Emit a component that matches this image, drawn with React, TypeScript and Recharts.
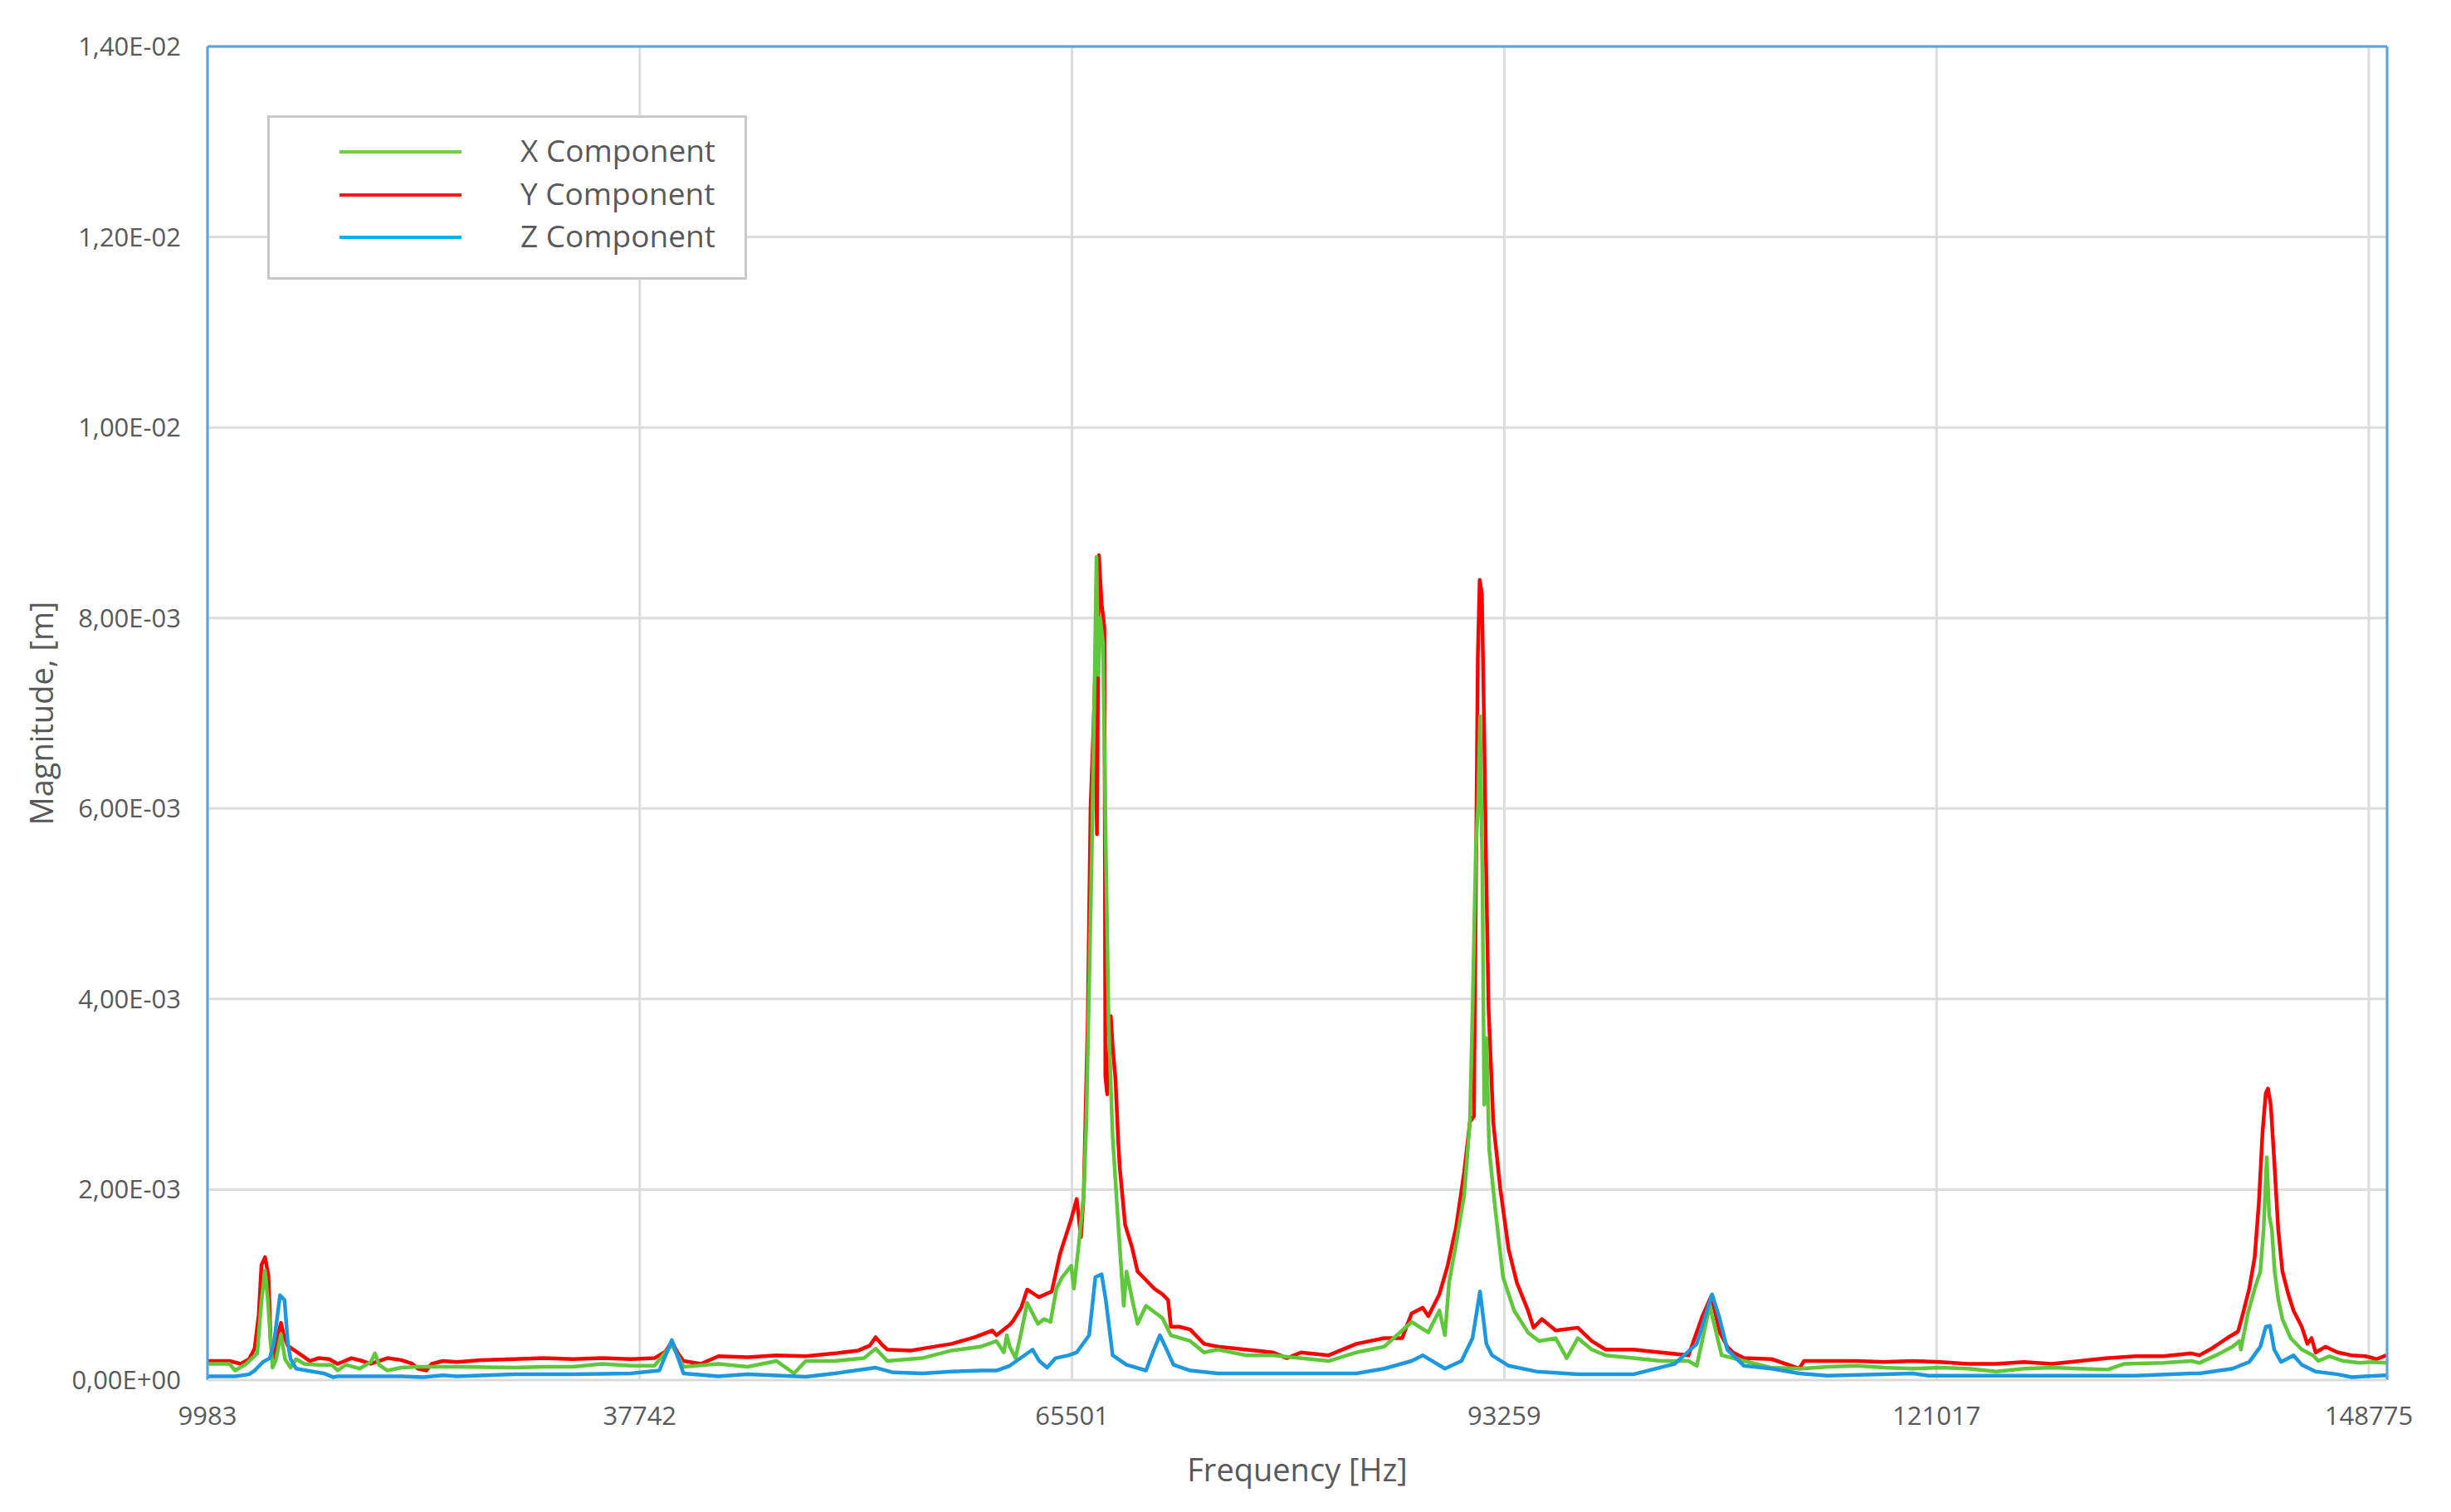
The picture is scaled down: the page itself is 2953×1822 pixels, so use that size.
import { LineChart, Line, XAxis, YAxis, CartesianGrid, ReferenceLine } from "recharts"

// frequency ticks [Hz] and magnitude ticks in mm (1 = 1E-03 m)
const xTicks = [9983, 37742, 65501, 93259, 121017, 148775]
const yTicks = [0, 2, 4, 6, 8, 10, 12, 14]

// X Component (green)
const xFreq = [
  10000, 11400, 11760, 12470, 13180, 13450, 13680, 13860, 14160, 14390, 14700, 14960, 15320, 15670, 16200,
  17100, 17980, 18340, 18870, 19760, 20470, 20740, 21000, 21540, 22430, 23500, 25100, 26000, 29700, 31570,
  33440, 35310, 37180, 38680, 39800, 40550, 42790, 44660, 46530, 47650, 48400, 50270, 52150, 52890, 53640,
  55880, 57760, 59630, 60650, 61120, 61310, 61500, 61870, 62240, 62620, 63310, 63700, 64120, 64500, 64870,
  65450, 65620, 65950, 66250, 66420, 66780, 66960, 67070, 67190, 67310, 67490, 67670, 67850, 68110, 68470,
  68820, 69000, 69360, 69710, 70250, 71310, 71850, 73090, 73980, 74870, 76650, 78420, 81980, 83760, 85540,
  87310, 88380, 89090, 89450, 89710, 90160, 90690, 91050, 91220, 91440, 91580, 91700, 91850, 91970, 92110,
  92290, 92650, 93180, 93890, 94780, 95490, 96560, 97270, 97980, 98870, 99760, 101540, 103310, 105090, 105620,
  106450, 107220, 108650, 110420, 112310, 114100, 115890, 117680, 119470, 121260, 123050, 124840, 126630, 128430, 130220,
  132010, 133080, 135590, 137380, 137900, 138960, 140030, 140470, 140560, 141010, 141450, 141810, 142020, 142220, 142380,
  142550, 142730, 142960, 143230, 143760, 144470, 145190, 145540, 146250, 147140, 148210, 148920, 149900,
]
const xMag = [
  0.17, 0.17, 0.10, 0.17, 0.28, 0.83, 1.15, 0.83, 0.13, 0.22, 0.48, 0.22, 0.13, 0.22, 0.17,
  0.16, 0.16, 0.10, 0.16, 0.12, 0.19, 0.28, 0.16, 0.10, 0.13, 0.14, 0.14, 0.14, 0.13, 0.14,
  0.14, 0.17, 0.15, 0.15, 0.37, 0.14, 0.17, 0.14, 0.20, 0.07, 0.20, 0.20, 0.23, 0.33, 0.20,
  0.23, 0.31, 0.35, 0.41, 0.29, 0.47, 0.35, 0.23, 0.50, 0.81, 0.59, 0.64, 0.61, 0.96, 1.08,
  1.20, 0.96, 1.45, 1.94, 2.70, 5.60, 7.43, 8.64, 7.40, 8.00, 7.74, 5.60, 3.77, 2.55, 1.63,
  0.78, 1.14, 0.85, 0.59, 0.78, 0.65, 0.47, 0.41, 0.29, 0.32, 0.26, 0.26, 0.20, 0.29, 0.35,
  0.61, 0.50, 0.73, 0.47, 1.02, 1.43, 1.95, 2.71, 3.88, 5.63, 6.03, 6.97, 5.34, 2.89, 3.59,
  2.42, 1.84, 1.08, 0.73, 0.50, 0.41, 0.44, 0.23, 0.44, 0.32, 0.26, 0.23, 0.20, 0.20, 0.15,
  0.78, 0.26, 0.20, 0.13, 0.12, 0.14, 0.15, 0.13, 0.12, 0.13, 0.12, 0.09, 0.12, 0.13, 0.12,
  0.11, 0.17, 0.18, 0.20, 0.18, 0.26, 0.35, 0.41, 0.32, 0.70, 0.96, 1.14, 1.58, 2.34, 1.73,
  1.58, 1.14, 0.85, 0.64, 0.44, 0.32, 0.26, 0.20, 0.25, 0.20, 0.18, 0.19, 0.18,
]

// Y Component (red)
const yFreq = [
  10000, 10340, 11400, 12120, 12650, 13010, 13270, 13450, 13680, 13900, 14040, 14250, 14520, 14700, 14870,
  15140, 15500, 16030, 16560, 17100, 17800, 18340, 19230, 19940, 20470, 21540, 22430, 23140, 23500, 24030,
  24380, 25100, 26000, 27500, 29700, 31570, 33440, 35310, 37180, 38680, 39400, 39800, 40200, 40550, 41670,
  42790, 44660, 46530, 48400, 50270, 51770, 52500, 52890, 53300, 53640, 55140, 55880, 57760, 59250, 60380,
  60650, 61500, 61710, 62240, 62620, 63370, 64200, 64740, 65450, 65800, 66070, 66250, 66510, 66690, 66870,
  66960, 67100, 67225, 67400, 67580, 67640, 67760, 67990, 68110, 68290, 68470, 68560, 68910, 69360, 69710,
  70250, 70780, 71310, 71670, 71850, 72380, 73090, 73980, 74870, 76650, 78420, 79300, 80200, 81980, 83760,
  85540, 86700, 87310, 88020, 88380, 89090, 89620, 90160, 90690, 91050, 91310, 91450, 91560, 91680, 91820,
  91950, 92100, 92250, 92550, 93000, 93540, 94070, 94780, 95140, 95670, 96560, 97980, 98870, 99760, 101540,
  103310, 105090, 105980, 106550, 107100, 107580, 107940, 108650, 110420, 112210, 112500, 114100, 115890, 117680, 119470,
  121260, 123050, 124840, 126630, 128430, 130220, 132010, 133800, 135590, 137380, 137900, 138780, 139670, 140380, 140650,
  141100, 141450, 141720, 141950, 142160, 142300, 142480, 142700, 142960, 143230, 143590, 143940, 144470, 144830, 145100,
  145360, 145990, 146790, 147670, 148560, 149280, 149900,
]
const yMag = [
  0.20, 0.20, 0.20, 0.17, 0.22, 0.33, 0.68, 1.21, 1.29, 1.09, 0.39, 0.22, 0.48, 0.60, 0.48,
  0.36, 0.32, 0.26, 0.20, 0.23, 0.22, 0.17, 0.23, 0.20, 0.17, 0.23, 0.21, 0.17, 0.12, 0.10,
  0.17, 0.20, 0.19, 0.21, 0.22, 0.23, 0.22, 0.23, 0.22, 0.23, 0.30, 0.40, 0.28, 0.20, 0.17,
  0.25, 0.24, 0.26, 0.25, 0.28, 0.31, 0.36, 0.45, 0.37, 0.32, 0.31, 0.33, 0.38, 0.45, 0.52,
  0.47, 0.58, 0.62, 0.76, 0.95, 0.87, 0.93, 1.33, 1.69, 1.90, 1.50, 1.94, 3.77, 6.00, 6.80,
  7.30, 5.73, 8.66, 8.15, 7.90, 3.19, 3.00, 3.82, 3.50, 3.16, 2.50, 2.24, 1.63, 1.39, 1.14,
  1.05, 0.96, 0.90, 0.84, 0.56, 0.56, 0.53, 0.38, 0.35, 0.32, 0.29, 0.23, 0.29, 0.26, 0.38,
  0.44, 0.44, 0.70, 0.76, 0.67, 0.90, 1.20, 1.60, 2.19, 2.71, 2.77, 5.50, 7.60, 8.40, 8.25,
  7.00, 5.30, 3.90, 2.71, 2.01, 1.37, 1.02, 0.73, 0.55, 0.64, 0.52, 0.55, 0.41, 0.32, 0.32,
  0.29, 0.26, 0.67, 0.88, 0.50, 0.35, 0.29, 0.23, 0.22, 0.12, 0.20, 0.20, 0.20, 0.19, 0.20,
  0.19, 0.17, 0.17, 0.19, 0.17, 0.20, 0.23, 0.25, 0.25, 0.28, 0.26, 0.34, 0.44, 0.51, 0.67,
  0.96, 1.29, 1.87, 2.60, 3.01, 3.06, 2.89, 2.31, 1.58, 1.14, 0.91, 0.73, 0.56, 0.38, 0.44,
  0.29, 0.35, 0.29, 0.26, 0.25, 0.22, 0.26,
]

// Z Component (blue)
const zFreq = [
  10000, 11760, 12650, 13010, 13540, 13980, 14250, 14640, 14930, 15140, 15320, 15670, 16740, 17450, 18070,
  18340, 20650, 22430, 23860, 25100, 26000, 29700, 33440, 37180, 39000, 39800, 40550, 42790, 44660, 48400,
  50270, 52890, 54020, 55880, 57760, 59630, 60650, 61500, 62970, 63400, 63900, 64450, 65300, 65800, 66600,
  67000, 67400, 67670, 68110, 69000, 70250, 70690, 71140, 71490, 72020, 73090, 74870, 78420, 83760, 85540,
  87310, 88020, 89450, 90510, 91220, 91700, 92110, 92470, 93540, 95310, 97980, 101540, 104200, 105620, 106600,
  107050, 107580, 108650, 110420, 112200, 114000, 119470, 120500, 128000, 133800, 137380, 137900, 140030, 141100, 141810,
  142160, 142430, 142700, 143140, 143940, 144470, 145360, 146790, 147670, 148560, 149900,
]
const zMag = [
  0.04, 0.04, 0.06, 0.10, 0.19, 0.23, 0.39, 0.89, 0.84, 0.39, 0.22, 0.12, 0.09, 0.07, 0.03,
  0.04, 0.04, 0.04, 0.03, 0.05, 0.04, 0.06, 0.06, 0.07, 0.10, 0.42, 0.07, 0.04, 0.06, 0.035,
  0.07, 0.13, 0.08, 0.07, 0.09, 0.10, 0.10, 0.15, 0.32, 0.20, 0.13, 0.23, 0.26, 0.29, 0.47,
  1.08, 1.11, 0.84, 0.26, 0.16, 0.10, 0.29, 0.47, 0.35, 0.16, 0.10, 0.07, 0.07, 0.07, 0.12,
  0.20, 0.26, 0.12, 0.20, 0.44, 0.93, 0.38, 0.26, 0.15, 0.09, 0.06, 0.06, 0.17, 0.38, 0.90,
  0.67, 0.32, 0.15, 0.12, 0.07, 0.045, 0.07, 0.045, 0.045, 0.045, 0.07, 0.07, 0.12, 0.19, 0.35,
  0.56, 0.57, 0.32, 0.19, 0.26, 0.16, 0.09, 0.06, 0.03, 0.04, 0.05,
]

const series = [
  { key: "x", name: "X Component", freq: xFreq, mag: xMag, color: "#5ec73a", legendColor: "#72cd47" },
  { key: "y", name: "Y Component", freq: yFreq, mag: yMag, color: "#ff0000", legendColor: "#ff1a1a" },
  { key: "z", name: "Z Component", freq: zFreq, mag: zMag, color: "#1b98df", legendColor: "#00b2ee" },
]

const toPoints = (freq: number[], mag: number[]) => freq.map((f, i) => ({ f, v: mag[i] }))

// mm -> "1,40E-02" style (metres)
const sci = (mm: number) => {
  if (mm === 0) return "0,00E+00"
  const m = mm / 1000
  const exp = Math.floor(Math.log10(m) + 1e-9)
  const mant = m / Math.pow(10, exp)
  const sign = exp < 0 ? "-" : "+"
  return `${mant.toFixed(2).replace(".", ",")}E${sign}${String(Math.abs(exp)).padStart(2, "0")}`
}

const FONT = "'Open Sans', 'Noto Sans', sans-serif"
const TEXT = "#595959"
const BORDER = "#5ba3dd"
const X_MAX = 149950

export default function App() {
  // draw order as in the source: red first, then green, blue on top
  const drawOrder = [series[1], series[0], series[2]]
  return (
    <div style={{ position: "absolute", left: 0, top: 0, width: 2953, height: 1822, background: "#fff", fontFamily: FONT }}>
      <LineChart width={2953} height={1822} margin={{ top: 56, right: 77, left: 0, bottom: 0 }}>
        <CartesianGrid stroke="#dcdcdc" strokeWidth={3} />
        <XAxis
          dataKey="f"
          type="number"
          domain={[9983, X_MAX]}
          ticks={xTicks}
          allowDataOverflow
          height={159}
          tickSize={0}
          tickMargin={32}
          axisLine={{ stroke: "#d9d9d9", strokeWidth: 2 }}
          tickLine={false}
          tick={{ fill: TEXT, fontSize: 31, fontFamily: FONT }}
          label={{
            content: (p: any) => {
              const vb = p.viewBox
              return (
                <text x={vb.x + vb.width / 2} y={vb.y + 107} textAnchor="middle" dominantBaseline="central"
                  fill={TEXT} fontSize={38} fontFamily={FONT}>
                  Frequency [Hz]
                </text>
              )
            },
          }}
        />
        <YAxis
          type="number"
          domain={[0, 14]}
          ticks={yTicks}
          width={250}
          tickSize={0}
          tickMargin={32}
          axisLine={false}
          tickLine={false}
          tickFormatter={sci}
          tick={{ fill: TEXT, fontSize: 31, fontFamily: FONT }}
          label={{
            content: (p: any) => {
              const vb = p.viewBox
              const cx = vb.x + 49
              const cy = vb.y + vb.height / 2
              return (
                <text x={cx} y={cy} transform={`rotate(-90 ${cx} ${cy})`} textAnchor="middle" dominantBaseline="central"
                  fill={TEXT} fontSize={38} fontFamily={FONT}>
                  Magnitude, [m]
                </text>
              )
            },
          }}
        />
        {drawOrder.map((s) => (
          <Line
            key={s.key}
            data={toPoints(s.freq, s.mag)}
            dataKey="v"
            name={s.name}
            type="linear"
            stroke={s.color}
            strokeWidth={4.5}
            strokeLinejoin="round"
            dot={false}
            activeDot={false}
            isAnimationActive={false}
          />
        ))}
        <ReferenceLine y={14} stroke={BORDER} strokeWidth={3} ifOverflow="visible" />
        <ReferenceLine x={9983} stroke={BORDER} strokeWidth={3} ifOverflow="visible" />
        <ReferenceLine x={X_MAX} stroke={BORDER} strokeWidth={3} ifOverflow="visible" />
      </LineChart>

      <div
        style={{
          position: "absolute", left: 322, top: 139, width: 578, height: 198, boxSizing: "border-box",
          border: "3px solid #c8c8c8", background: "#fff",
        }}
      >
        {series.map((s, i) => (
          <div key={s.key} style={{ position: "absolute", left: 0, top: 19 + i * 51.5, height: 44, width: "100%" }}>
            <div style={{ position: "absolute", left: 84, top: 20, width: 147, height: 4, background: s.legendColor }} />
            <div style={{ position: "absolute", left: 302, top: -2, lineHeight: "44px", fontSize: 37, color: TEXT, whiteSpace: "nowrap" }}>
              {s.name}
            </div>
          </div>
        ))}
      </div>
    </div>
  )
}
